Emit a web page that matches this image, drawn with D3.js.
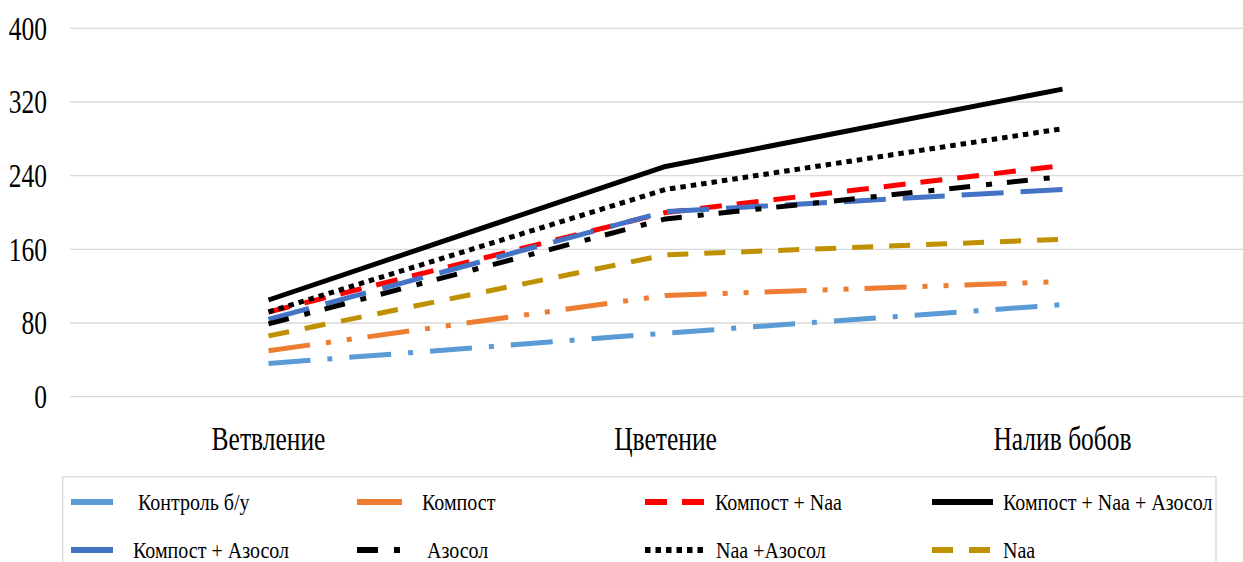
<!DOCTYPE html>
<html><head><meta charset="utf-8">
<script src="https://cdn.jsdelivr.net/npm/d3@7"></script>
<style>body{margin:0;background:#fff}svg{display:block}</style>
</head><body><svg id="c" width="1243" height="562"></svg>
<script>
const categories = ["Ветвление", "Цветение", "Налив бобов"];
const seriesNames = ["Контроль б/у", "Компост", "Компост + Naa", "Компост + Naa + Азосол", "Компост + Азосол", "Азосол", "Naa +Азосол", "Naa"];
const kontrol = [36, 69, 100];
const kompost = [50, 110, 125];
const kompostNaa = [92, 200, 251];
const kompostNaaAzosol = [105, 250, 334];
const kompostAzosol = [84, 201, 225];
const azosol = [79, 193, 239];
const naaAzosol = [92, 225, 291];
const naa = [66, 154, 171];
const yTicks = [0, 80, 160, 240, 320, 400];

const seriesValues = [kontrol, kompost, kompostNaa, kompostNaaAzosol, kompostAzosol, azosol, naaAzosol, naa];
const colors = ["#5B9BD5", "#ED7D31", "#FF0000", "#000000", "#4472C4", "#000000", "#000000", "#BF9000"];
const dashes = ["42,17,5,17", "42,16,5,16,5,16", "22,15", null, "42,17", "21,16,6,15", "5.5,5", "21,16"];

const FONT = "'Liberation Serif', 'Times New Roman', serif";
const svg = d3.select("#c");
const x = d3.scaleBand().domain(categories).range([70, 1261]).padding(0);
const y = d3.scaleLinear().domain([0, 400]).range([396.7, 28.3]);
const SX = 0.75;
const SXL = 0.87;

svg.append("g").selectAll("line").data(yTicks).join("line")
  .attr("x1", 70).attr("x2", 1243)
  .attr("y1", d => y(d)).attr("y2", d => y(d))
  .attr("stroke", "#d9d9d9").attr("stroke-width", 1.3);

svg.append("g").selectAll("text").data(yTicks).join("text")
  .attr("transform", d => `translate(47,${y(d)}) scale(${SX},1)`)
  .attr("text-anchor", "end").attr("dominant-baseline", "central")
  .style("font-family", FONT).attr("fill", "#000")
  .attr("font-size", 34).text(d => d);

svg.append("g").selectAll("text").data(categories).join("text")
  .attr("transform", d => `translate(${x(d) + x.bandwidth() / 2},450) scale(${SX},1)`)
  .attr("text-anchor", "middle").style("font-family", FONT).attr("fill", "#000")
  .attr("font-size", 34).text(d => d);

const line = d3.line().x((d, i) => x(categories[i]) + x.bandwidth() / 2).y(d => y(d));
seriesValues.forEach((vals, i) => {
  svg.append("path").attr("d", line(vals)).attr("fill", "none")
    .attr("stroke", colors[i]).attr("stroke-width", 5)
    .attr("stroke-linejoin", "round")
    .attr("stroke-dasharray", dashes[i]);
});

svg.append("rect").attr("x", 62.7).attr("y", 476.7).attr("width", 1153.3).attr("height", 120)
  .attr("fill", "none").attr("stroke", "#d9d9d9").attr("stroke-width", 1.3);
const legColX = [71, 357, 645, 932];
const legSampleW = [42, 45, 62, 61];
const legTextX = [[138, 133], [422, 427], [715, 716], [1003, 1003]];
const legRowY = [502, 550];
const legOrder = [[0, 0, 0], [1, 0, 1], [2, 0, 2], [3, 0, 3], [4, 1, 0], [5, 1, 1], [6, 1, 2], [7, 1, 3]];
legOrder.forEach(([si, row, col]) => {
  svg.append("line").attr("x1", legColX[col]).attr("x2", legColX[col] + legSampleW[col])
    .attr("y1", legRowY[row]).attr("y2", legRowY[row])
    .attr("stroke", colors[si]).attr("stroke-width", 6)
    .attr("stroke-dasharray", (si === 0 || si === 1 || si === 4) ? null : dashes[si]);
  svg.append("text").attr("transform", `translate(${legTextX[col][row]},${legRowY[row] + 8}) scale(${SXL},1)`)
    .style("font-family", FONT).attr("fill", "#000")
    .attr("font-size", 23).text(seriesNames[si]);
});
</script></body></html>
